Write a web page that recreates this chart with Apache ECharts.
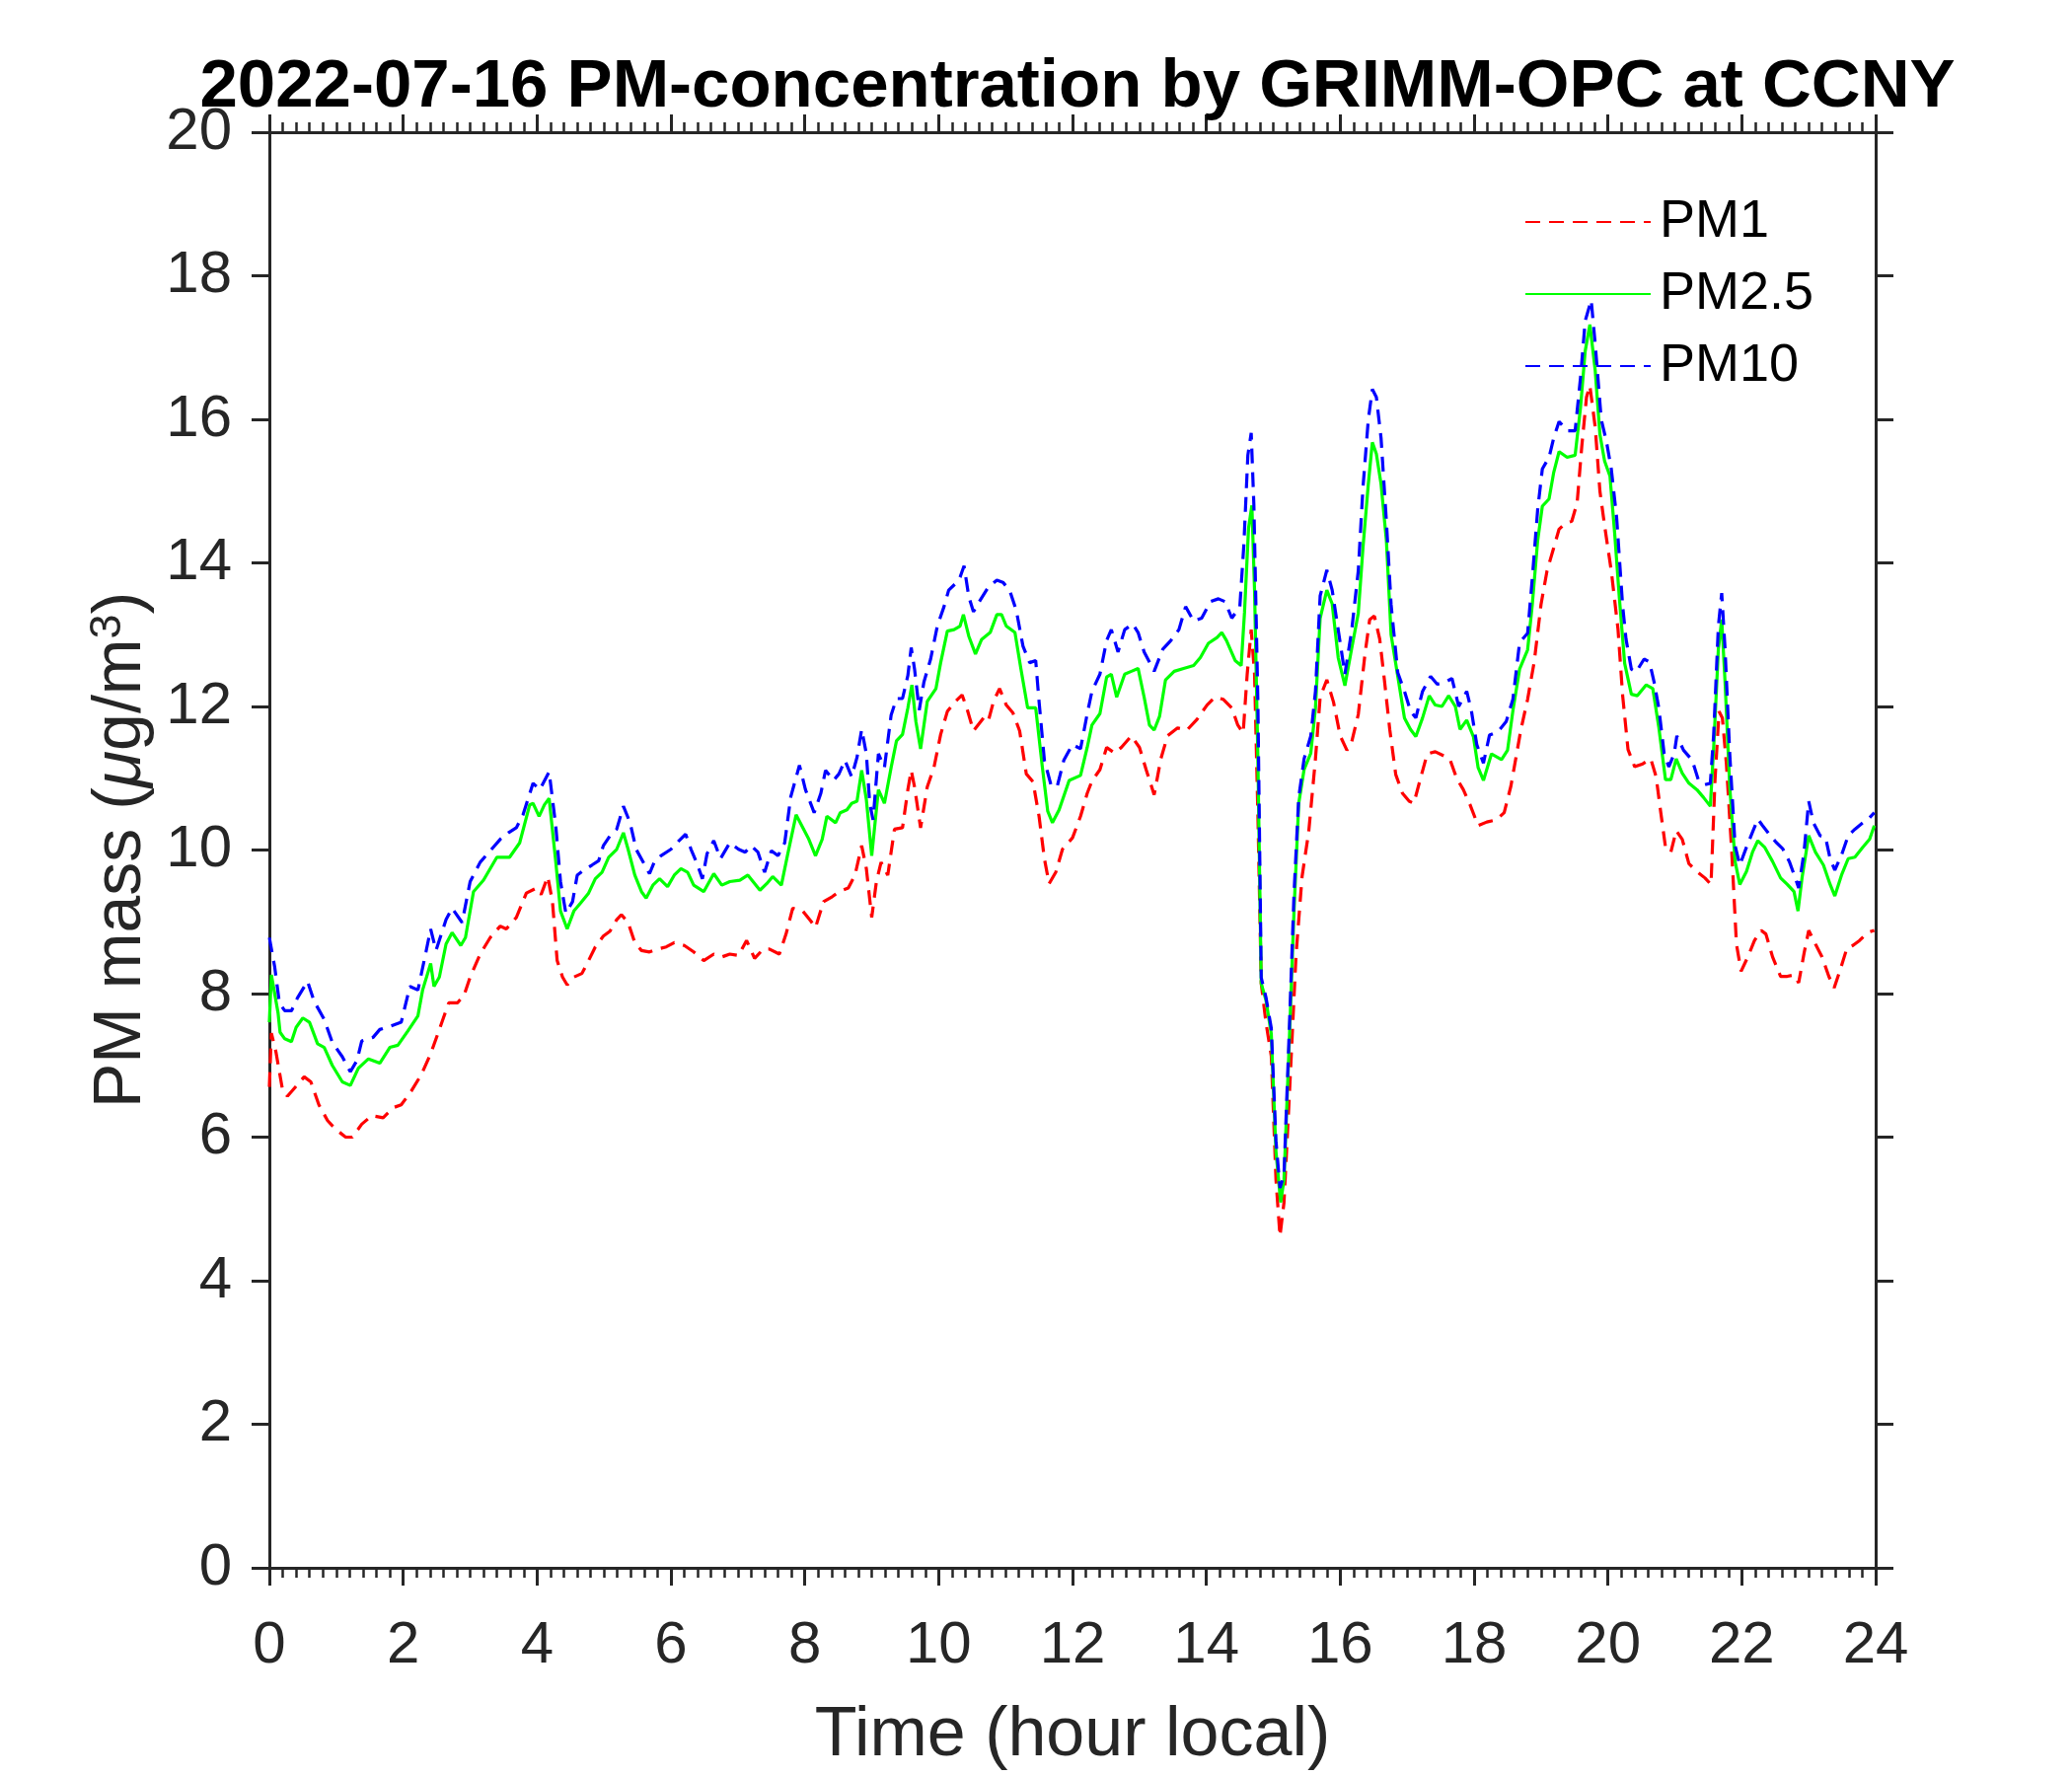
<!DOCTYPE html>
<html lang="en">
<head>
    <meta charset="UTF-8">
    <title>2022-07-16 PM-concentration by GRIMM-OPC at CCNY</title>
    <script src="https://cdn.jsdelivr.net/npm/echarts@6.0.0/dist/echarts.min.js"></script>
    <style>
        html, body { margin: 0; padding: 0; background: #fff; }
        #chart { width: 2100px; height: 1800px; }
    </style>
</head>
<body>
    <div id="chart"></div>

    <script>
        // values (hour local, ug/m3)
        const pm1Hours = [0.00,0.03,0.10,0.20,0.27,0.40,0.52,0.62,0.74,0.87,0.99,1.14,1.24,1.38,1.53,1.70,1.85,1.97,2.12,2.27,2.41,2.54,2.68,2.81,2.91,3.00,3.15,3.30,3.45,3.54,3.69,3.84,3.99,4.06,4.16,4.23,4.30,4.38,4.45,4.55,4.67,4.77,4.87,4.99,5.09,5.19,5.26,5.36,5.46,5.56,5.68,5.80,5.93,6.05,6.20,6.34,6.49,6.64,6.76,6.88,7.01,7.13,7.25,7.38,7.47,7.62,7.72,7.82,7.97,8.09,8.16,8.28,8.41,8.51,8.65,8.75,8.85,8.92,9.00,9.07,9.14,9.24,9.34,9.46,9.54,9.59,9.64,9.73,9.83,9.93,10.03,10.13,10.25,10.35,10.42,10.52,10.67,10.74,10.82,10.91,11.01,11.11,11.21,11.31,11.41,11.50,11.58,11.65,11.75,11.85,12.00,12.12,12.22,12.29,12.41,12.51,12.63,12.73,12.88,13.00,13.10,13.22,13.32,13.42,13.57,13.71,13.86,14.01,14.13,14.25,14.38,14.47,14.55,14.61,14.67,14.72,14.77,14.82,14.89,14.97,15.04,15.10,15.16,15.24,15.34,15.43,15.53,15.63,15.70,15.80,15.90,16.00,16.10,16.17,16.27,16.37,16.44,16.51,16.59,16.66,16.74,16.83,16.93,17.03,17.10,17.20,17.30,17.42,17.55,17.64,17.74,17.84,17.94,18.06,18.19,18.33,18.45,18.55,18.63,18.70,18.80,18.90,19.00,19.09,19.19,19.27,19.36,19.46,19.54,19.61,19.68,19.73,19.81,19.88,19.95,20.05,20.15,20.22,20.30,20.40,20.52,20.64,20.72,20.79,20.86,20.94,21.02,21.11,21.21,21.33,21.45,21.54,21.60,21.66,21.71,21.77,21.85,21.92,21.99,22.09,22.19,22.29,22.36,22.46,22.58,22.68,22.78,22.85,22.93,23.00,23.10,23.20,23.30,23.38,23.47,23.57,23.66,23.76,23.88,23.98];
        const pm1Values = [6.70,7.45,7.18,6.64,6.57,6.71,6.84,6.77,6.45,6.23,6.11,6.00,6.00,6.18,6.30,6.27,6.41,6.45,6.64,6.87,7.16,7.50,7.87,7.87,7.98,8.23,8.55,8.78,8.94,8.90,9.06,9.40,9.47,9.38,9.63,9.28,8.46,8.23,8.12,8.23,8.28,8.46,8.65,8.80,8.87,9.03,9.10,8.99,8.71,8.60,8.58,8.62,8.65,8.71,8.67,8.58,8.46,8.55,8.51,8.55,8.53,8.74,8.49,8.62,8.62,8.55,8.83,9.19,9.15,9.01,8.92,9.28,9.35,9.42,9.47,9.65,10.06,9.74,9.06,9.56,9.83,9.65,10.29,10.31,10.84,11.11,10.88,10.31,10.88,11.15,11.61,11.93,12.07,12.16,11.98,11.66,11.84,11.79,12.07,12.25,12.02,11.91,11.66,11.06,10.95,10.47,9.88,9.53,9.69,10.01,10.17,10.47,10.79,10.96,11.12,11.43,11.35,11.43,11.59,11.43,11.12,10.77,11.27,11.59,11.70,11.67,11.82,12.02,12.13,12.10,11.98,11.74,11.63,12.45,13.07,12.45,10.49,8.14,7.60,7.13,5.41,4.62,5.09,6.58,8.54,9.63,10.26,11.27,12.13,12.37,12.06,11.59,11.39,11.50,11.89,12.73,13.21,13.26,12.94,12.37,11.68,11.05,10.79,10.68,10.65,11.00,11.34,11.37,11.31,11.26,11.00,10.84,10.63,10.34,10.39,10.42,10.52,10.89,11.31,11.68,12.10,12.63,13.42,13.89,14.21,14.47,14.55,14.58,14.84,15.63,16.31,16.47,15.89,15.00,14.52,13.89,13.08,12.15,11.40,11.16,11.20,11.27,11.02,10.52,10.04,9.97,10.27,10.15,9.81,9.70,9.61,9.52,10.98,11.93,11.84,11.20,9.97,8.69,8.31,8.51,8.74,8.88,8.83,8.51,8.24,8.24,8.26,8.15,8.56,8.88,8.69,8.51,8.24,8.08,8.33,8.63,8.67,8.74,8.85,8.88];

        const pm25Hours = [0.00,0.03,0.13,0.16,0.23,0.33,0.40,0.50,0.60,0.72,0.82,0.94,1.09,1.21,1.33,1.48,1.65,1.80,1.92,2.07,2.22,2.29,2.41,2.46,2.54,2.64,2.73,2.86,2.93,3.05,3.20,3.40,3.59,3.74,3.89,3.94,4.03,4.11,4.18,4.28,4.35,4.45,4.55,4.65,4.77,4.87,4.97,5.07,5.19,5.29,5.36,5.46,5.56,5.63,5.73,5.83,5.95,6.05,6.15,6.25,6.34,6.49,6.64,6.76,6.88,7.03,7.15,7.33,7.43,7.52,7.65,7.74,7.87,8.01,8.06,8.16,8.26,8.33,8.46,8.53,8.63,8.70,8.78,8.85,8.92,9.00,9.10,9.19,9.29,9.37,9.46,9.54,9.60,9.66,9.73,9.83,9.96,10.03,10.13,10.23,10.32,10.37,10.45,10.55,10.64,10.77,10.87,10.94,11.01,11.14,11.23,11.33,11.45,11.55,11.63,11.70,11.80,11.95,12.12,12.22,12.29,12.41,12.51,12.58,12.66,12.78,12.88,12.98,13.07,13.15,13.22,13.30,13.39,13.52,13.66,13.81,13.91,14.03,14.16,14.23,14.30,14.43,14.52,14.57,14.63,14.68,14.72,14.77,14.82,14.89,14.97,15.04,15.11,15.16,15.24,15.31,15.38,15.46,15.56,15.63,15.70,15.80,15.88,15.97,16.07,16.17,16.27,16.34,16.42,16.48,16.54,16.61,16.69,16.76,16.86,16.96,17.05,17.13,17.23,17.33,17.42,17.52,17.62,17.72,17.79,17.89,17.99,18.06,18.14,18.26,18.41,18.50,18.58,18.68,18.80,18.87,18.95,19.02,19.12,19.19,19.27,19.39,19.51,19.59,19.66,19.73,19.81,19.88,19.95,20.03,20.10,20.17,20.25,20.35,20.44,20.57,20.67,20.76,20.86,20.94,21.02,21.11,21.21,21.33,21.43,21.53,21.58,21.65,21.70,21.75,21.82,21.90,21.97,22.07,22.16,22.24,22.34,22.46,22.58,22.68,22.78,22.84,22.90,23.00,23.10,23.22,23.32,23.39,23.49,23.59,23.69,23.81,23.91,23.98];
        const pm25Values = [7.60,8.26,7.73,7.46,7.37,7.33,7.53,7.66,7.60,7.30,7.25,7.00,6.77,6.72,6.96,7.09,7.03,7.25,7.28,7.48,7.69,8.05,8.42,8.10,8.23,8.69,8.85,8.67,8.78,9.42,9.58,9.90,9.90,10.10,10.63,10.65,10.47,10.63,10.72,9.83,9.15,8.90,9.15,9.26,9.40,9.60,9.69,9.90,10.01,10.24,10.01,9.65,9.42,9.33,9.51,9.60,9.49,9.65,9.74,9.69,9.51,9.42,9.67,9.51,9.56,9.58,9.65,9.44,9.53,9.63,9.51,9.92,10.49,10.24,10.15,9.92,10.15,10.47,10.38,10.52,10.56,10.65,10.68,11.11,10.70,9.92,10.84,10.65,11.15,11.52,11.61,11.98,12.30,11.79,11.41,12.07,12.25,12.61,13.05,13.07,13.12,13.28,12.98,12.73,12.93,13.03,13.28,13.28,13.12,13.03,12.52,11.98,11.98,11.15,10.54,10.38,10.56,10.97,11.04,11.43,11.74,11.90,12.41,12.45,12.13,12.45,12.49,12.53,12.13,11.74,11.67,11.86,12.37,12.49,12.53,12.57,12.68,12.88,12.96,13.03,12.92,12.64,12.57,13.31,14.48,14.80,13.62,11.27,8.14,7.91,7.44,5.80,5.09,5.41,7.36,9.16,10.65,11.12,11.35,11.98,13.23,13.62,13.43,12.68,12.29,12.80,13.30,14.21,15.10,15.68,15.52,15.10,14.31,13.00,12.42,11.84,11.68,11.58,11.84,12.15,12.02,12.00,12.15,12.00,11.68,11.81,11.58,11.15,10.97,11.34,11.26,11.39,11.94,12.52,12.79,13.42,14.31,14.79,14.89,15.26,15.55,15.47,15.50,16.16,16.95,17.32,16.68,15.79,15.42,15.21,14.42,13.52,12.60,12.17,12.15,12.30,12.25,11.71,10.98,10.98,11.27,11.07,10.93,10.84,10.73,10.61,11.43,12.80,13.21,12.34,10.88,9.84,9.52,9.70,9.97,10.13,10.04,9.84,9.61,9.52,9.42,9.15,9.61,10.20,9.97,9.79,9.52,9.36,9.65,9.88,9.90,10.04,10.15,10.34];

        const pm10Hours = [0.00,0.08,0.15,0.23,0.33,0.42,0.57,0.67,0.82,0.94,1.09,1.21,1.31,1.38,1.55,1.65,1.82,1.97,2.10,2.22,2.34,2.41,2.49,2.64,2.73,2.88,3.00,3.15,3.30,3.45,3.57,3.69,3.79,3.94,4.04,4.18,4.28,4.35,4.43,4.53,4.60,4.70,4.82,4.92,4.99,5.09,5.19,5.29,5.39,5.48,5.61,5.68,5.75,5.85,6.00,6.12,6.22,6.30,6.39,6.47,6.54,6.64,6.74,6.88,7.01,7.11,7.20,7.30,7.40,7.50,7.60,7.70,7.79,7.92,8.01,8.14,8.24,8.31,8.43,8.51,8.60,8.70,8.78,8.85,8.92,8.97,9.02,9.10,9.19,9.29,9.37,9.46,9.54,9.59,9.64,9.71,9.78,9.88,9.98,10.08,10.15,10.25,10.32,10.38,10.45,10.52,10.62,10.74,10.87,10.96,11.06,11.16,11.26,11.36,11.45,11.50,11.58,11.68,11.77,11.87,12.00,12.12,12.22,12.29,12.41,12.51,12.58,12.68,12.78,12.90,12.98,13.07,13.22,13.35,13.47,13.59,13.69,13.81,13.93,14.06,14.18,14.28,14.38,14.50,14.56,14.62,14.67,14.71,14.77,14.82,14.89,14.97,15.04,15.10,15.16,15.24,15.31,15.38,15.46,15.56,15.63,15.70,15.80,15.88,15.97,16.07,16.17,16.27,16.34,16.42,16.48,16.54,16.61,16.69,16.76,16.86,16.96,17.05,17.13,17.23,17.35,17.45,17.57,17.67,17.77,17.89,17.96,18.04,18.14,18.23,18.36,18.48,18.58,18.68,18.80,18.87,18.95,19.02,19.12,19.19,19.27,19.39,19.51,19.59,19.66,19.75,19.81,19.90,19.98,20.05,20.13,20.22,20.27,20.35,20.42,20.54,20.62,20.69,20.76,20.84,20.91,20.99,21.03,21.13,21.26,21.35,21.45,21.53,21.58,21.65,21.70,21.75,21.82,21.90,21.97,22.07,22.16,22.24,22.31,22.41,22.51,22.61,22.71,22.80,22.85,22.93,23.00,23.07,23.17,23.25,23.32,23.39,23.49,23.59,23.69,23.81,23.91,23.98];
        const pm10Values = [8.78,8.37,7.87,7.76,7.76,7.94,8.17,7.89,7.64,7.32,7.12,6.91,7.07,7.34,7.39,7.50,7.55,7.60,8.10,8.05,8.58,8.90,8.60,9.03,9.19,8.99,9.56,9.83,9.99,10.15,10.24,10.31,10.49,10.93,10.84,11.09,10.33,9.56,9.12,9.28,9.65,9.72,9.79,9.85,10.06,10.20,10.29,10.61,10.38,10.01,9.79,9.67,9.83,9.92,10.01,10.13,10.22,10.01,9.81,9.60,9.95,10.13,9.88,10.10,10.01,9.97,10.06,9.97,9.69,9.99,9.92,10.10,10.74,11.18,10.84,10.52,10.79,11.11,10.97,11.06,11.25,11.02,11.29,11.68,11.34,10.65,10.42,11.34,11.15,11.88,12.11,12.11,12.43,12.82,12.52,11.95,12.34,12.66,13.12,13.39,13.62,13.71,13.80,13.96,13.53,13.32,13.48,13.66,13.76,13.73,13.62,13.34,12.84,12.61,12.64,12.07,11.25,10.90,10.88,11.25,11.47,11.41,11.90,12.21,12.45,12.92,13.07,12.76,13.07,13.15,13.03,12.76,12.49,12.80,12.92,13.07,13.39,13.19,13.23,13.46,13.50,13.46,13.23,13.39,14.25,15.50,15.81,14.80,12.06,8.22,7.95,7.52,5.95,5.29,5.48,7.52,9.40,10.73,11.27,11.59,12.21,13.54,13.90,13.62,13.07,12.45,13.05,13.89,15.05,16.00,16.42,16.31,15.74,14.58,13.42,12.47,12.21,11.94,11.84,12.21,12.42,12.31,12.34,12.39,12.00,12.21,11.94,11.47,11.21,11.60,11.65,11.79,12.10,12.89,13.02,13.79,14.74,15.31,15.47,15.74,15.97,15.84,15.84,16.58,17.37,17.66,17.05,16.00,15.68,15.31,14.63,13.40,12.94,12.52,12.48,12.66,12.62,12.34,11.98,11.34,11.16,11.34,11.59,11.39,11.25,10.98,10.91,10.93,11.61,13.12,13.58,12.80,11.34,10.06,9.79,10.04,10.25,10.43,10.34,10.22,10.11,10.02,9.84,9.61,9.47,9.97,10.68,10.38,10.20,10.18,9.88,9.72,9.93,10.20,10.29,10.38,10.45,10.52];

        const seriesNames = ['PM1', 'PM2.5', 'PM10'];
        const seriesColors = ['#ff0000', '#00ff00', '#0000ff'];

        const axisColor = '#262626';
        const font = '"Liberation Sans", Arial, Helvetica, sans-serif';

        function pairs(hours, values) {
            return hours.map((h, i) => [h, values[i]]);
        }

        const chart = echarts.init(document.getElementById('chart'));

        const xCommon = {
            type: 'value',
            min: 0,
            max: 24,
            interval: 2,
            splitLine: { show: false },
            axisLine: { show: true, onZero: false, lineStyle: { color: axisColor, width: 3 } },
            axisTick: { show: true, inside: false, length: 18, lineStyle: { color: axisColor, width: 3 } },
            minorTick: { show: true, splitNumber: 10, length: 10, lineStyle: { color: axisColor, width: 2.5 } },
            minorSplitLine: { show: false }
        };

        const yCommon = {
            type: 'value',
            min: 0,
            max: 20,
            interval: 2,
            splitLine: { show: false },
            axisLine: { show: true, onZero: false, lineStyle: { color: axisColor, width: 3 } },
            axisTick: { show: true, inside: false, length: 18, lineStyle: { color: axisColor, width: 3 } }
        };

        const dash = [15, 9];

        const option = {
            backgroundColor: '#ffffff',
            animation: false,
            title: {
                text: '2022-07-16 PM-concentration by GRIMM-OPC at CCNY',
                left: 1087,
                top: 49,
                textAlign: 'center',
                textStyle: { fontFamily: font, fontSize: 69, fontWeight: 'bold', color: '#000000' }
            },
            grid: { left: 273, right: 199, top: 134, bottom: 205, containLabel: false },
            legend: {
                orient: 'vertical',
                left: 1540,
                top: 192,
                itemWidth: 127,
                itemHeight: 20,
                itemGap: 17,
                data: seriesNames,
                // line sample only, no marker in the middle
                itemStyle: { opacity: 0 },
                textStyle: { fontFamily: font, fontSize: 54, color: '#000000', lineHeight: 56, padding: [0, 0, 0, 4] }
            },
            xAxis: [
                Object.assign({}, xCommon, {
                    position: 'bottom',
                    name: 'Time (hour local)',
                    nameLocation: 'middle',
                    nameGap: 136,
                    nameTextStyle: { fontFamily: font, fontSize: 70, color: axisColor },
                    axisLabel: { show: true, margin: 49, fontFamily: font, fontSize: 60, color: axisColor }
                }),
                Object.assign({}, xCommon, {
                    position: 'top',
                    axisLabel: { show: false }
                })
            ],
            yAxis: [
                Object.assign({}, yCommon, {
                    position: 'left',
                    name: 'PM mass ({mu|μ}g/m{sup|3})',
                    nameLocation: 'middle',
                    nameGap: 112,
                    nameTextStyle: {
                        fontFamily: font, fontSize: 68, color: axisColor,
                        rich: {
                            mu: { fontFamily: font, fontSize: 68, fontStyle: 'italic', color: axisColor },
                            sup: { fontFamily: font, fontSize: 45, color: axisColor, verticalAlign: 'bottom', padding: [0, 0, 28, 0] }
                        }
                    },
                    axisLabel: { show: true, margin: 38, fontFamily: font, fontSize: 60, color: axisColor }
                }),
                Object.assign({}, yCommon, {
                    position: 'right',
                    axisLabel: { show: false }
                })
            ],
            series: [
                {
                    name: seriesNames[0],
                    type: 'line',
                    symbol: 'none',
                    data: pairs(pm1Hours, pm1Values),
                    lineStyle: { color: seriesColors[0], width: 3.2, type: dash },
                    itemStyle: { color: seriesColors[0] }
                },
                {
                    name: seriesNames[1],
                    type: 'line',
                    symbol: 'none',
                    data: pairs(pm25Hours, pm25Values),
                    lineStyle: { color: seriesColors[1], width: 3.2, type: 'solid' },
                    itemStyle: { color: seriesColors[1] }
                },
                {
                    name: seriesNames[2],
                    type: 'line',
                    symbol: 'none',
                    data: pairs(pm10Hours, pm10Values),
                    lineStyle: { color: seriesColors[2], width: 3.2, type: dash },
                    itemStyle: { color: seriesColors[2] }
                }
            ]
        };

        chart.setOption(option);
    </script>
</body>
</html>
